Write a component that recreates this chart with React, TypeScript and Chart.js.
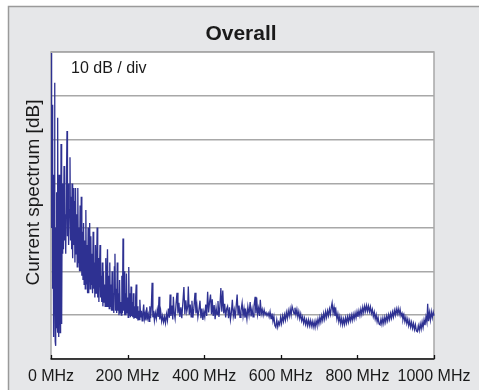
import React, { useEffect, useRef } from "react";
import { Chart, registerables } from "chart.js";

Chart.register(...registerables);

const titleText = "Overall";
const yAxisLabel = "Current spectrum [dB]";
const scaleNote = "10 dB / div";
const xTickValues = [0, 200, 400, 600, 800, 1000];
const xTickUnit = "MHz";
const yMin = 0;
const yMax = 70;
const yStep = 10;

// Frequency (MHz) of each sample
const freqMHz = [
  0, 0.5, 1.2, 2.0, 2.6, 3.2, 3.8, 4.3, 4.8, 5.3, 5.8, 6.3, 6.8, 7.3, 7.8, 8.6, 9.4, 10.2, 11.0, 11.8, 12.6, 13.4,
  14.2, 15.0, 15.8, 16.6, 17.4, 18.2, 19.0, 19.8, 20.6, 21.4, 22.2, 23.0, 23.8, 24.6, 25.4, 26.2, 27.0, 27.8, 28.6, 29.4,
  30.2, 31, 32.5, 34, 35.5, 37, 38.5, 40, 41.8, 43, 44.5, 46, 47.5, 49.6, 51, 52.5, 54, 55, 56.5, 58,
  59.5, 61, 62.5, 64, 65.5, 67, 68.5, 70, 71.5, 73, 74.5, 76, 77.5, 79, 80.5, 82, 83.5, 85, 86.5, 88,
  89.5, 91, 92.5, 94, 95.5, 97, 98.5, 100,
  101, 102.5, 104, 105.5, 107, 108.5, 110, 111.5, 113, 114.5, 116, 117.5, 119, 120.5, 122, 123.5, 125, 126.5, 128, 129.5,
  131, 132.5, 134, 135.5, 137, 138.5, 140, 141.5, 143, 144.5, 146, 147.5, 149, 150.5, 152, 153.5, 155, 156.5, 158, 159.5,
  161, 162.5, 164, 165.5, 167, 168.5, 170, 171.5, 173, 174.5, 176, 177.5, 179, 180.5, 182, 183.5, 185, 186.5, 188, 189.5,
  191, 192.5, 194, 195.5, 197, 198.5, 200, 201.5, 203, 204.5, 206, 207.5, 209, 210.5, 212, 213.5, 215, 216.5, 218, 219.5,
  221, 222.5, 224, 225.5, 227, 228.5, 230, 232, 234, 236, 238, 240, 242, 244, 246, 248, 250, 252, 254, 256,
  258, 260,
  262, 264, 266, 268, 270, 272.5, 275, 277.5, 280, 282, 284, 286.5, 289, 291.5, 294, 296.5, 299, 301.5, 304, 306.5,
  309, 311, 313, 315.5, 318, 319.5, 321.5, 324, 326.5, 329, 331.5, 334, 336.5, 339, 341.5, 344, 347, 349.5, 352, 354.5,
  357, 358.5, 361, 363.5, 366, 368, 370.5, 373, 376, 378.5, 381, 383.5, 386, 389, 391.5, 394, 396.5, 399, 401.5, 404,
  406.5, 409, 411.5, 414, 416.5, 419, 421, 423.5, 426, 428.5, 431, 433.5, 436, 438.5, 441, 443.5, 446, 448.5, 451, 453.5,
  456, 458.5, 461, 463.5, 466, 468.5, 471, 473.5, 476, 478.5, 481, 483.5, 486, 488.5, 491, 493.5, 496, 499, 501.5, 504,
  506.5, 509, 511.5, 514, 517, 520, 522.5, 525, 527.5, 530, 533, 535, 537, 539.5, 542, 544.5, 546.5, 549, 551.5, 554,
  556.5, 559, 561.5, 564, 567, 569.5,
  572, 574.5, 577, 579.5, 582, 584.5, 587, 589.5, 592, 594.5, 597, 599.5, 602, 604.5, 607, 609.5, 612, 614.5, 617, 619.5,
  622, 624.5, 627, 629.5, 632, 634.5, 637, 639.5, 642, 644.5, 647, 649.5, 652, 654.5, 657, 659.5, 662, 664.5, 667, 669.5,
  672, 674.5, 677, 679.5, 682, 684.5, 687, 689.5, 692, 694.5, 697, 699.5, 702, 704.5, 707, 709.5, 712, 714.5, 717, 719.5,
  722, 724.5, 727, 729.5, 732, 734, 736.5, 739, 741.5, 744, 746.5, 749, 751.5, 754, 756.5, 759, 761.5, 764, 766.5, 769,
  771.5, 774, 776.5, 779, 781.5, 784, 786.5, 789, 791.5, 794, 796.5, 799, 801.5, 804, 806.5, 809, 811.5, 814, 816.5, 819,
  821.5, 824, 826.5, 829, 831.5, 834, 836.5, 839, 841.5, 844, 846.5, 849, 851.5, 854, 856.5, 859, 861.5, 864, 866.5, 869,
  871.5, 874, 876.5, 879, 881.5, 884, 886.5, 889, 891.5, 894, 896.5, 899, 901.5, 904, 906.5, 909, 911.5, 914, 916.5, 919,
  921.5, 924, 926.5, 929, 931.5, 934, 936.5, 939, 941.5, 944, 946.5, 949, 951.5, 954, 956.5, 959, 961.5, 964, 966.5, 969,
  971.5, 974, 976.5, 979, 981.5, 983.5, 985.5, 988, 990.5, 993, 995.5, 998, 1000,
];

// Level (dB, 10 dB per division) of each sample
const levelDb = [
  30, 69.8, 42, 69.5, 31, 58, 22, 48, 16, 42, 12, 38, 8, 33, 5, 40, 63, 20, 4, 30, 3, 26,
  7, 38, 10, 45, 6, 55, 12, 35, 5, 42, 9, 30, 6, 38, 11, 49, 14, 33, 8, 40,
  24, 36, 25, 44, 27, 33, 24, 38, 52, 28, 40, 26, 34, 46, 27, 37, 25, 40, 23, 39,
  26, 36, 22, 39, 24, 33, 21, 39, 22, 30, 20, 35, 20, 37, 19, 29, 18, 31, 17, 27,
  16, 34, 17, 26, 15, 30, 15, 25,
  31, 16, 28, 17, 24, 15, 29, 16, 22, 14, 26, 15, 21, 30, 14, 23, 13, 20, 26, 14,
  19, 13, 22, 12, 20, 13, 17, 12, 23, 12, 18, 25, 12, 19, 11.5, 22, 12, 17, 11, 20,
  11, 15, 10.5, 21, 24, 11, 16, 10.5, 22, 11, 15, 10, 18, 10.5, 13, 10, 19, 10.5, 27.5, 11,
  20, 10, 15, 10, 19.5, 10.5, 14, 9.5, 21, 10, 15, 9.5, 16.5, 9.8, 13, 9.5, 15, 9.2, 12, 9.5,
  14, 17, 9.2, 12, 8.8, 11, 9.0, 13.5, 9.5, 11, 8.7, 10.5, 12.4, 9.2, 10.3, 8.8, 11.8, 9.4, 10.2, 8.6,
  12, 9.3,
  12, 17.4, 9.5, 11, 8.8, 10.5, 9.2, 11.2, 9.6, 14.2, 9.0, 10.8, 8.6, 9.8, 8.4, 9.6, 8.2, 10.2, 8.8, 11.5,
  9.4, 14.7, 9.8, 12.2, 9.0, 14.2, 10.6, 9.2, 12.6, 15.1, 10.4, 12.8, 9.6, 11.8, 9.3, 12.5, 16.4, 10.2, 13.4, 10.8,
  12.0, 16.5, 10.1, 12.4, 9.6, 13.3, 9.4, 11.6, 15.1, 10.4, 12.2, 9.5, 11.0, 13.3, 9.3, 11.5, 8.9, 10.8, 9.6, 12.4,
  9.8, 15.3, 10.6, 13.0, 14.7, 10.2, 13.6, 9.8, 12.3, 9.1, 11.7, 10.1, 13.2, 9.6, 12.0, 16.2, 10.8, 15.6, 10.4, 12.6,
  9.5, 11.4, 12.0, 9.3, 11.8, 9.0, 10.6, 13.5, 9.8, 11.2, 9.2, 12.0, 14.7, 10.0, 12.2, 9.5, 11.0, 12.8, 9.8, 11.5,
  9.4, 10.8, 9.1, 11.9, 10.0, 13.0, 9.7, 11.4, 9.6, 12.0, 14.2, 10.4, 14.0, 10.2, 11.6, 9.8, 13.5, 10.3, 11.3, 10.0,
  11.2, 10.1, 10.6, 9.9, 10.5, 9.6,
  10.8, 9.2, 10.4, 8.6, 9.7, 7.6, 7.2, 8.9, 7.3, 8.4, 7.8, 9.5, 8.1, 9.8, 8.6, 10.1, 8.9, 10.6, 9.3, 11.0,
  9.8, 11.4, 10.0, 12.0, 11.2, 10.3, 11.7, 10.1, 11.3, 9.6, 10.8, 9.2, 10.3, 8.7, 9.6, 8.2, 9.3, 7.9, 8.9, 7.6,
  8.9, 7.6, 8.8, 7.5, 8.6, 7.3, 8.5, 7.2, 8.7, 7.7, 9.1, 8.0, 9.5, 8.4, 9.9, 8.8, 10.4, 9.1, 10.8, 9.5,
  11.0, 9.9, 11.4, 10.2, 11.9, 12.8, 10.5, 11.8, 9.8, 11.0, 9.1, 10.3, 8.5, 9.7, 8.0, 9.3, 7.8, 9.1, 7.9, 9.4,
  8.2, 9.6, 8.4, 9.8, 8.7, 10.0, 8.8, 10.2, 9.1, 10.5, 9.4, 10.8, 9.6, 11.0, 9.9, 11.4, 10.2, 11.8, 10.6, 12.1,
  10.9, 12.2, 10.9, 12.1, 10.8, 11.9, 10.4, 11.3, 9.7, 10.7, 9.1, 10.1, 8.5, 9.5, 8.0, 7.8, 9.1, 7.9, 9.3, 8.1,
  9.5, 8.4, 9.8, 8.7, 10.1, 9.0, 10.4, 9.3, 10.7, 9.6, 11.1, 10.0, 11.4, 10.3, 11.5, 10.2, 11.3, 9.8, 10.4, 9.0,
  10.0, 8.5, 9.5, 8.1, 9.1, 7.6, 8.7, 7.3, 8.4, 7.0, 8.1, 6.7, 7.8, 6.4, 6.2, 7.6, 6.5, 8.0, 6.8, 8.4,
  7.2, 8.9, 7.7, 9.6, 8.4, 12.6, 8.6, 10.6, 8.9, 10.8, 9.4, 10.7, 9.9,
];

const FONT = "'Liberation Sans', Arial, sans-serif";

const framePlugin = {
  id: "frame",
  beforeDraw(chart: any) {
    const { ctx, width, height, chartArea } = chart;
    ctx.save();
    ctx.fillStyle = "#ffffff";
    ctx.fillRect(0, 0, width, height);
    ctx.fillStyle = "#e6e7e9";
    ctx.fillRect(8, 6, width - 8, height - 6);
    ctx.strokeStyle = "#9a9a9a";
    ctx.lineWidth = 1.5;
    ctx.beginPath();
    ctx.moveTo(8.5, height);
    ctx.lineTo(8.5, 6.5);
    ctx.lineTo(width, 6.5);
    ctx.stroke();
    ctx.fillStyle = "#ffffff";
    ctx.fillRect(chartArea.left, chartArea.top, chartArea.right - chartArea.left, chartArea.bottom - chartArea.top);
    ctx.restore();
  },
  beforeDatasetsDraw(chart: any) {
    const { ctx, chartArea, scales } = chart;
    const { left, right, top, bottom } = chartArea;
    ctx.save();
    ctx.strokeStyle = "#a8a8a8";
    ctx.lineWidth = 1.5;
    ctx.beginPath();
    ctx.moveTo(left, bottom);
    ctx.lineTo(left, top);
    ctx.lineTo(right, top);
    ctx.lineTo(right, bottom);
    ctx.stroke();
    ctx.strokeStyle = "#111111";
    ctx.lineWidth = 1.5;
    ctx.beginPath();
    ctx.moveTo(left - 0.5, bottom);
    ctx.lineTo(right + 0.5, bottom);
    ctx.stroke();
    ctx.lineWidth = 1.3;
    ctx.beginPath();
    for (const v of xTickValues) {
      const px = Math.round(scales.x.getPixelForValue(v)) + 0.5;
      ctx.moveTo(px, bottom);
      ctx.lineTo(px, bottom - 4);
    }
    ctx.stroke();
    ctx.restore();
  },
  afterDraw(chart: any) {
    const { ctx, chartArea } = chart;
    ctx.save();
    ctx.fillStyle = "#1a1a1a";
    ctx.textAlign = "center";
    ctx.textBaseline = "middle";
    ctx.font = `bold 21px ${FONT}`;
    ctx.fillText(titleText, 241, 34);
    ctx.textAlign = "left";
    ctx.font = `16px ${FONT}`;
    ctx.fillText(scaleNote, chartArea.left + 20, 69);
    ctx.translate(33.5, 192.5);
    ctx.rotate(-Math.PI / 2);
    ctx.textAlign = "center";
    ctx.font = `19px ${FONT}`;
    ctx.fillText(yAxisLabel, 0, 0);
    ctx.restore();
  },
};

export default function App() {
  const ref = useRef<HTMLCanvasElement | null>(null);
  useEffect(() => {
    if (!ref.current) return;
    const points = freqMHz.map((f, i) => ({ x: f, y: levelDb[i] }));
    const chart = new Chart(ref.current, {
      type: "line",
      data: {
        datasets: [
          {
            data: points,
            borderColor: "#2e3192",
            borderWidth: 1.3,
            pointRadius: 0,
            tension: 0,
            fill: false,
            clip: 3,
          },
        ],
      },
      options: {
        animation: false,
        responsive: false,
        devicePixelRatio: 1,
        layout: { padding: { left: 0, top: 52, right: 45, bottom: 0 } },
        plugins: { legend: { display: false }, tooltip: { enabled: false }, title: { display: false } },
        scales: {
          x: {
            type: "linear",
            min: 0,
            max: 1000,
            afterFit: (s: any) => {
              s.height = 31;
            },
            afterBuildTicks: (s: any) => {
              s.ticks = xTickValues.map((v) => ({ value: v }));
            },
            ticks: {
              autoSkip: false,
              maxRotation: 0,
              padding: 8,
              color: "#1a1a1a",
              font: { family: FONT, size: 16 },
              callback: (v: any) => `${v} ${xTickUnit}`,
            },
            grid: { display: false, drawTicks: false },
            border: { display: false },
          },
          y: {
            min: yMin,
            max: yMax,
            afterFit: (s: any) => {
              s.width = 51;
            },
            ticks: { display: false, stepSize: yStep },
            grid: { color: "#a8a8a8", lineWidth: 1.5, drawTicks: false },
            border: { display: false },
          },
        },
      },
      plugins: [framePlugin],
    });
    return () => chart.destroy();
  }, []);
  return (
    <div style={{ position: "fixed", left: 0, top: 0, width: 479, height: 390 }}>
      <canvas ref={ref} width={479} height={390} style={{ display: "block", width: 479, height: 390 }} />
    </div>
  );
}
